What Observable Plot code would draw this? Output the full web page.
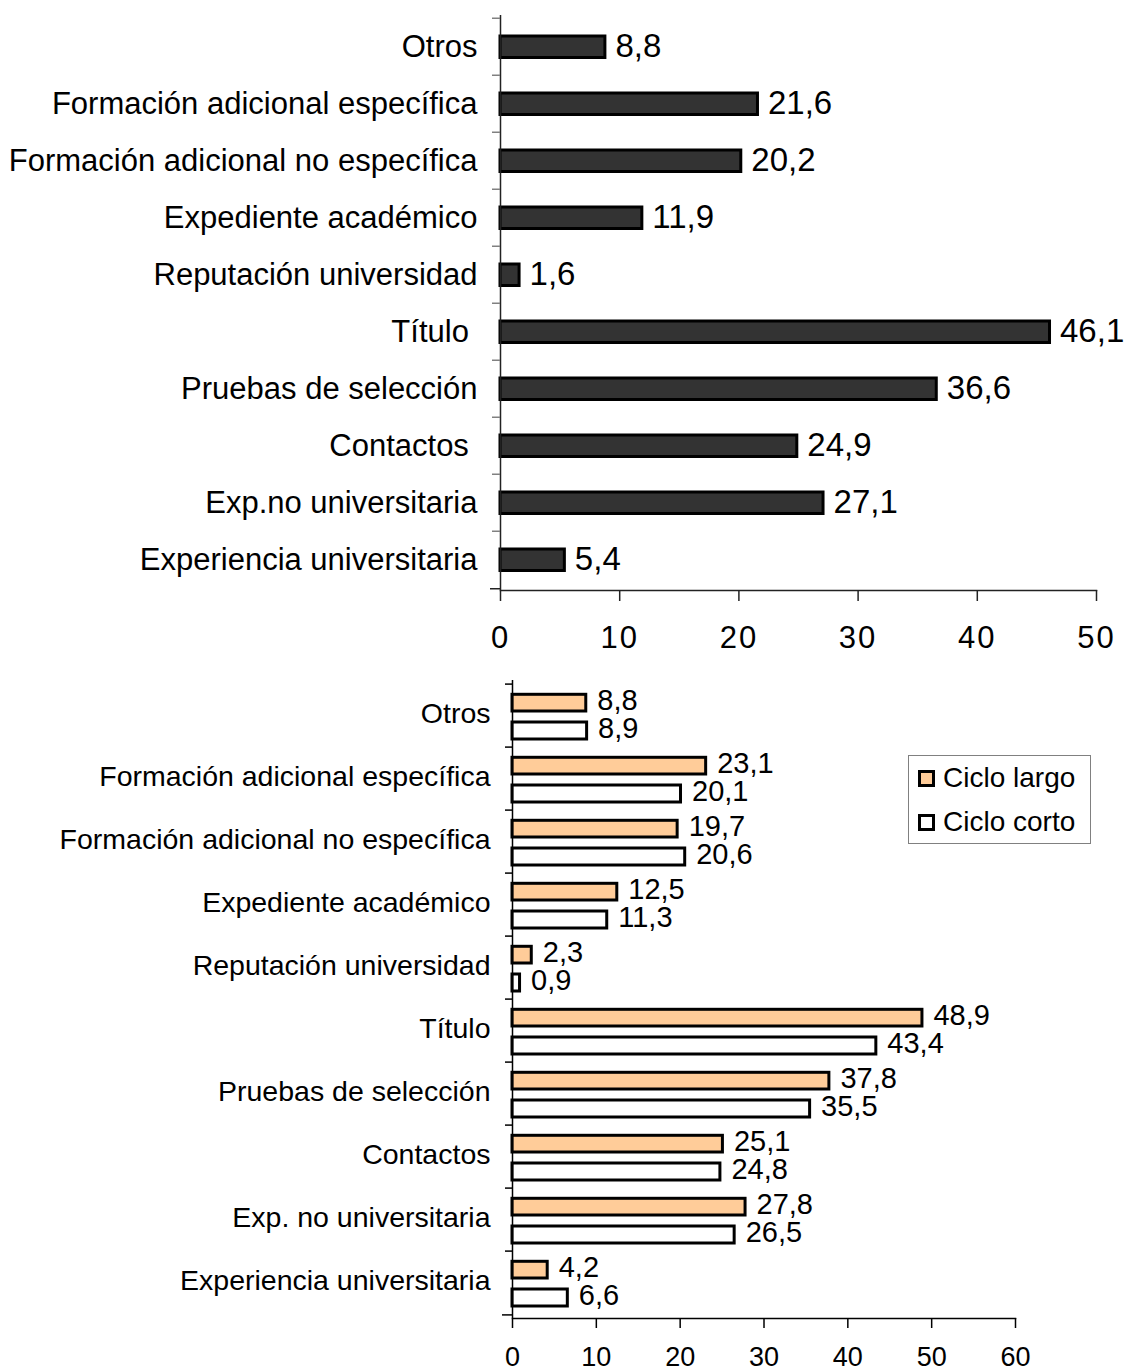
<!DOCTYPE html>
<html><head><meta charset="utf-8">
<script src="https://cdn.jsdelivr.net/npm/d3@7"></script>
<script src="https://cdn.jsdelivr.net/npm/@observablehq/plot@0.6"></script>
<style>
body{margin:0;background:#fff;font-family:"Liberation Sans",Arial,sans-serif;}
#wrap{position:relative;width:1125px;height:1369px;overflow:hidden;background:#fff;}
#wrap svg{display:block;overflow:visible;}
#legend{position:absolute;left:908px;top:755px;width:183px;height:89px;border:1.5px solid #808080;background:#fff;box-sizing:border-box;font-size:28px;color:#000;}
.item{position:absolute;left:9px;display:flex;align-items:center;height:32px;}
.sw{width:17px;height:17px;box-sizing:border-box;border:3px solid #000;margin-right:8px;}
</style></head><body><div id="wrap"></div>
<script>
// ---- data ----
const categoriasTotal = ["Otros","Formación adicional específica","Formación adicional no específica","Expediente académico","Reputación universidad","Título ","Pruebas de selección","Contactos ","Exp.no universitaria","Experiencia universitaria"];
const valoresTotal = [8.8, 21.6, 20.2, 11.9, 1.6, 46.1, 36.6, 24.9, 27.1, 5.4];
const ticksTotal = [0, 10, 20, 30, 40, 50];

const categoriasCiclo = ["Otros","Formación adicional específica","Formación adicional no específica","Expediente académico","Reputación universidad","Título","Pruebas de selección","Contactos","Exp. no universitaria","Experiencia universitaria"];
const cicloLargo = [8.8, 23.1, 19.7, 12.5, 2.3, 48.9, 37.8, 25.1, 27.8, 4.2];
const cicloCorto = [8.9, 20.1, 20.6, 11.3, 0.9, 43.4, 35.5, 24.8, 26.5, 6.6];
const series = ["Ciclo largo", "Ciclo corto"];
const colores = ["#FFCC99", "#FFFFFF"];
const ticksCiclo = [0, 10, 20, 30, 40, 50, 60];

const FONT = '"Liberation Sans", Arial, Helvetica, sans-serif';
const fmt = v => v.toFixed(1).replace(".", ",");
const wrap = document.getElementById("wrap");

function spacing(svg, selector, px) {
  svg.querySelectorAll(selector).forEach(el => {
    el.style.letterSpacing = px + "px";
    el.querySelectorAll("text").forEach(t => t.style.letterSpacing = px + "px");
  });
}

// ---- chart 1 ----
const H1 = 665, MT1 = 15, MB1 = 75;
const step1 = (H1 - MT1 - MB1) / categoriasTotal.length;
const dataTotal = categoriasTotal.map((c, i) => ({cat: c, v: valoresTotal[i]}));
const lastTotal = categoriasTotal[categoriasTotal.length - 1];

const chart1 = Plot.plot({
  width: 1125, height: H1, marginTop: MT1, marginBottom: MB1, marginLeft: 500, marginRight: 29,
  style: {fontFamily: FONT, background: "white", color: "black", overflow: "visible"},
  x: {domain: [0, 50], label: null},
  y: {domain: categoriasTotal, padding: 0, label: null},
  marks: [
    Plot.barX(dataTotal, {x: "v", y: "cat", fill: "#333333", stroke: "black", strokeWidth: 3, insetTop: 18, insetBottom: 17.5}),
    Plot.text(dataTotal, {x: "v", y: "cat", text: d => fmt(d.v), textAnchor: "start", dx: 10, dy: -1, fontSize: 33, fill: "black", ariaLabel: "valores"}),
    Plot.ruleX([0], {stroke: "#222", strokeWidth: 1.5}),
    Plot.frame({anchor: "bottom", stroke: "#222", strokeWidth: 1.5}),
    Plot.axisY({tickSize: 0, tickPadding: 23, fontSize: 31, tickFormat: d => d.replace(/ $/, "\u00a0")}),
    Plot.axisY({tickSize: 8, dy: -step1 / 2, tickFormat: () => "", stroke: "#808080", strokeWidth: 1.5}),
    Plot.axisY({ticks: [lastTotal], tickSize: 10, dy: step1 / 2, tickFormat: () => "", stroke: "#222", strokeWidth: 1.5}),
    Plot.axisX({ticks: ticksTotal, tickSize: 11, tickPadding: 24, fontSize: 31, tickFormat: d => String(d), stroke: "#222", strokeWidth: 1.5})
  ]
});
spacing(chart1, '[aria-label="valores"]', 1.8);
spacing(chart1, '[aria-label="x-axis tick label"]', 2);
wrap.appendChild(chart1);

// ---- chart 2 ----
const H2 = 704, MT2 = 15, MB2 = 51;
const step2 = (H2 - MT2 - MB2) / categoriasCiclo.length;
const dataCiclo = [];
categoriasCiclo.forEach((c, i) => {
  dataCiclo.push({cat: c, serie: series[0], v: cicloLargo[i]});
  dataCiclo.push({cat: c, serie: series[1], v: cicloCorto[i]});
});
const largo = dataCiclo.filter(d => d.serie === series[0]);
const corto = dataCiclo.filter(d => d.serie === series[1]);
const lastCiclo = categoriasCiclo[categoriasCiclo.length - 1];

const chart2 = Plot.plot({
  width: 1125, height: H2, marginTop: MT2, marginBottom: MB2, marginLeft: 512, marginRight: 110,
  style: {fontFamily: FONT, background: "white", color: "black", overflow: "visible"},
  x: {domain: [0, 60], label: null},
  y: {domain: categoriasCiclo, padding: 0, label: null},
  color: {domain: series, range: colores},
  marks: [
    Plot.barX(largo, {x: "v", y: "cat", fill: "serie", stroke: "black", strokeWidth: 3, insetTop: 10.3, insetBottom: 36}),
    Plot.barX(corto, {x: "v", y: "cat", fill: "serie", stroke: "black", strokeWidth: 3, insetTop: 38, insetBottom: 8}),
    Plot.text(largo, {x: "v", y: "cat", text: d => fmt(d.v), textAnchor: "start", dx: 11, dy: -15, fontSize: 29, fill: "black", ariaLabel: "valoresCiclo"}),
    Plot.text(corto, {x: "v", y: "cat", text: d => fmt(d.v), textAnchor: "start", dx: 11, dy: 13, fontSize: 29, fill: "black", ariaLabel: "valoresCiclo"}),
    Plot.ruleX([0], {stroke: "black", strokeWidth: 1.5}),
    Plot.frame({anchor: "bottom", stroke: "black", strokeWidth: 1.5}),
    Plot.axisY({tickSize: 0, tickPadding: 22, fontSize: 28.5, dy: -2}),
    Plot.axisY({tickSize: 7, dy: -step2 / 2, tickFormat: () => "", stroke: "black", strokeWidth: 1.5}),
    Plot.axisY({ticks: [lastCiclo], tickSize: 10, dy: step2 / 2, tickFormat: () => "", stroke: "black", strokeWidth: 1.5}),
    Plot.axisX({ticks: ticksCiclo, tickSize: 10, tickPadding: 18, fontSize: 27, tickFormat: d => String(d), stroke: "black", strokeWidth: 1.5})
  ]
});
spacing(chart2, '[aria-label="valoresCiclo"]', 1.3);
wrap.appendChild(chart2);

// ---- legend ----
const legend = document.createElement("div");
legend.id = "legend";
series.forEach((s, i) => {
  const it = document.createElement("div");
  it.className = "item";
  it.style.top = (6 + i * 44) + "px";
  const sw = document.createElement("div");
  sw.className = "sw";
  sw.style.background = colores[i];
  const t = document.createElement("span");
  t.textContent = s;
  it.appendChild(sw); it.appendChild(t);
  legend.appendChild(it);
});
wrap.appendChild(legend);
</script></body></html>
